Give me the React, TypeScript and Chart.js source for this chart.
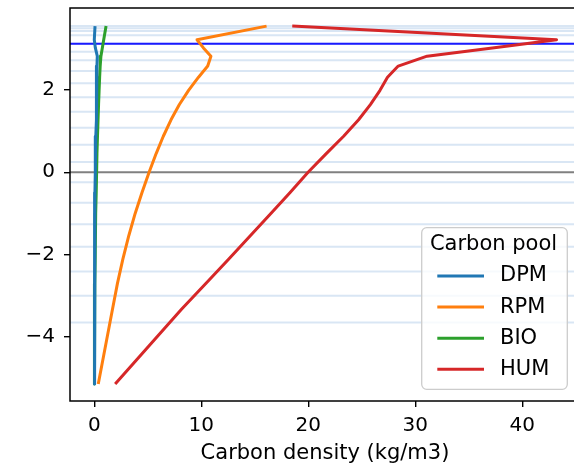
import React, { useEffect, useRef } from 'react';
import { Chart, registerables } from 'chart.js';

Chart.register(...registerables);

// Node elevations (m) at which the carbon profile is sampled
const depths = [3.55, 3.22, 3.02, 2.82, 2.58, 2.31, 1.99, 1.645, 1.275, 0.875, 0.46, 0.005, -0.49, -1.0, -1.535, -2.11, -2.705, -3.325, -5.14];

// Carbon density per pool (kg/m3) at each node
const dpm = [0.07, 0.0, 0.1, 0.28, 0.25, 0.23, 0.21, 0.19, 0.17, 0.14, 0.11, 0.08, 0.06, 0.05, 0.04, 0.03, 0.02, 0.02, 0.01];
const rpm = [16.1, 9.6, 10.2, 10.9, 10.6, 9.74, 8.81, 7.95, 7.17, 6.45, 5.79, 5.13, 4.46, 3.82, 3.23, 2.67, 2.16, 1.7, 0.37];
const bio = [1.1, 0.88, 0.75, 0.62, 0.55, 0.5, 0.45, 0.4, 0.35, 0.3, 0.25, 0.2, 0.16, 0.13, 0.1, 0.07, 0.05, 0.03, 0.0];
const hum = [18.5, 43.2, 37.2, 31.1, 28.4, 27.4, 26.7, 25.8, 24.7, 23.3, 21.7, 20.0, 18.3, 16.5, 14.6, 12.55, 10.4, 8.15, 1.95];

const poolNames = ['DPM', 'RPM', 'BIO', 'HUM'];
const poolColors = ['#1f77b4', '#ff7f0e', '#2ca02c', '#d62728'];

// Soil layer boundaries, water table and datum
const layerBoundaries = [3.55, 3.5, 3.43, 3.33, 3.12, 2.93, 2.72, 2.46, 2.16, 1.82, 1.47, 1.08, 0.67, 0.25, -0.24, -0.74, -1.26, -1.81, -2.41, -3.0, -3.65];
const waterTable = 3.12;
const datum = 0;

const xTicks = [0, 10, 20, 30, 40];
const yTicks = [-4, -2, 0, 2];
const xLimits = [-2.27, 45.39];
const yLimits = [-5.555, 3.99];

const xTitle = 'Carbon density (kg/m3)';
const legendTitle = 'Carbon pool';

const FONT = '"DejaVu Sans", sans-serif';
const TICK_SIZE = 20;
const LABEL_SIZE = 21;

const guideLines = {
  id: 'guideLines',
  beforeDatasetsDraw(chart: any) {
    const { ctx, chartArea: a, scales } = chart;
    const y = scales.y;
    ctx.save();
    ctx.beginPath();
    ctx.rect(a.left, a.top, a.right - a.left, a.bottom - a.top);
    ctx.clip();
    const hline = (v: number, color: string, w: number) => {
      const py = y.getPixelForValue(v);
      ctx.strokeStyle = color;
      ctx.lineWidth = w;
      ctx.beginPath();
      ctx.moveTo(a.left, py);
      ctx.lineTo(a.right, py);
      ctx.stroke();
    };
    for (const v of layerBoundaries) hline(v, 'rgba(170,200,230,0.45)', 2);
    hline(datum, '#808080', 2);
    hline(waterTable, '#1a1aff', 2);
    ctx.restore();
  },
};

const frame = {
  id: 'frame',
  afterDatasetsDraw(chart: any) {
    const { ctx, chartArea: a } = chart;
    ctx.save();
    ctx.strokeStyle = '#000';
    ctx.lineWidth = 1.5;
    ctx.strokeRect(a.left, a.top, a.right - a.left, a.bottom - a.top);
    ctx.restore();
  },
};

const poolLegend = {
  id: 'poolLegend',
  afterDraw(chart: any) {
    const { ctx, chartArea: a } = chart;
    const w = 145.6;
    const h = 161.6;
    const x0 = a.right - 12.7 - w;
    const y0 = a.bottom - 11.7 - h;
    ctx.save();
    ctx.fillStyle = 'rgba(255,255,255,0.8)';
    ctx.strokeStyle = '#cccccc';
    ctx.lineWidth = 1.3;
    ctx.beginPath();
    ctx.roundRect(x0, y0, w, h, 5);
    ctx.fill();
    ctx.stroke();
    ctx.font = `${LABEL_SIZE}px ${FONT}`;
    ctx.fillStyle = '#000';
    ctx.textBaseline = 'middle';
    ctx.textAlign = 'center';
    ctx.fillText(legendTitle, x0 + w / 2 - 1, y0 + 17.3);
    ctx.textAlign = 'left';
    chart.data.datasets.forEach((ds: any, i: number) => {
      const cy = y0 + 48.3 + i * 31.1;
      ctx.strokeStyle = ds.borderColor;
      ctx.lineWidth = 3;
      ctx.beginPath();
      ctx.moveTo(x0 + 15.6, cy);
      ctx.lineTo(x0 + 62.3, cy);
      ctx.stroke();
      ctx.fillStyle = '#000';
      ctx.fillText(ds.label, x0 + 78.3, cy);
    });
    ctx.restore();
  },
};

const tickFormat = (v: any) => String(v).replace('-', '\u2212');

export default function App() {
  const ref = useRef<HTMLCanvasElement>(null);

  useEffect(() => {
    const canvas = ref.current;
    if (!canvas) return;
    const series = [dpm, rpm, bio, hum];
    const chart = new Chart(canvas, {
      type: 'scatter',
      data: {
        datasets: series.map((vals, i) => ({
          label: poolNames[i],
          data: vals.map((v, j) => ({ x: v, y: depths[j] })),
          showLine: true,
          borderColor: poolColors[i],
          backgroundColor: poolColors[i],
          borderWidth: 3,
          borderJoinStyle: 'round' as const,
          pointRadius: 0,
          pointHoverRadius: 0,
          tension: 0,
        })),
      },
      options: {
        responsive: false,
        animation: false,
        devicePixelRatio: 1,
        layout: { padding: { left: 0, right: 20, top: 8, bottom: 0 } },
        plugins: {
          legend: { display: false },
          tooltip: { enabled: false },
        },
        scales: {
          x: {
            type: 'linear',
            min: xLimits[0],
            max: xLimits[1],
            afterFit: (s: any) => {
              s.height = 69;
              s.paddingLeft = 0;
              s.paddingRight = 0;
            },
            afterBuildTicks: (s: any) => {
              s.ticks = xTicks.map((v) => ({ value: v }));
            },
            border: { display: false },
            grid: {
              drawOnChartArea: false,
              drawTicks: true,
              tickLength: 6,
              color: '#000',
              lineWidth: 1.4,
            },
            ticks: {
              padding: 7,
              color: '#000',
              font: { family: FONT, size: TICK_SIZE },
              callback: tickFormat,
            },
            title: {
              display: true,
              text: xTitle,
              color: '#000',
              font: { family: FONT, size: LABEL_SIZE },
              padding: { top: 0, bottom: 3.4 },
            },
          },
          y: {
            type: 'linear',
            min: yLimits[0],
            max: yLimits[1],
            afterFit: (s: any) => {
              s.width = 70;
              s.paddingTop = 0;
              s.paddingBottom = 0;
            },
            afterBuildTicks: (s: any) => {
              s.ticks = yTicks.map((v) => ({ value: v }));
            },
            border: { display: false },
            grid: {
              drawOnChartArea: false,
              drawTicks: true,
              tickLength: 6,
              color: '#000',
              lineWidth: 1.4,
            },
            ticks: {
              padding: 9,
              color: '#000',
              font: { family: FONT, size: TICK_SIZE },
              callback: tickFormat,
            },
          },
        },
      },
      plugins: [guideLines, frame, poolLegend],
    });
    return () => chart.destroy();
  }, []);

  return (
    <div
      style={{
        position: 'fixed',
        left: 0,
        top: 0,
        width: 574,
        height: 470,
        overflow: 'hidden',
        background: '#fff',
      }}
    >
      <canvas ref={ref} width={600} height={470} style={{ display: 'block', width: 600, height: 470 }} />
    </div>
  );
}
